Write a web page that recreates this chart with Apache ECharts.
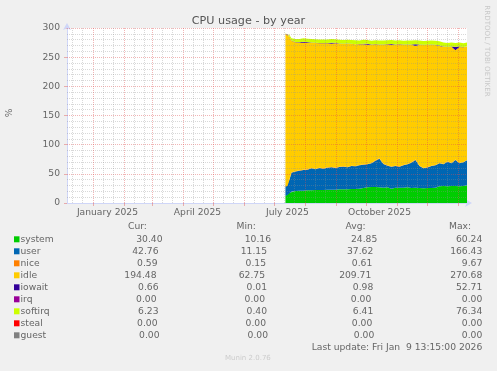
<!DOCTYPE html>
<html><head><meta charset="utf-8">
<script src="https://cdn.jsdelivr.net/npm/echarts@6/dist/echarts.min.js"></script>
<style>html,body{margin:0;padding:0;background:#f0f0f0;}#c{width:497px;height:371px;}</style>
</head><body><div id="c"></div>
<script>
// ---- data ----
const dates = ['2025-07-12','2025-07-14','2025-07-16','2025-07-18','2025-07-22','2025-07-26','2025-07-30',
 '2025-08-03','2025-08-07','2025-08-11','2025-08-15','2025-08-19','2025-08-23','2025-08-27','2025-08-31',
 '2025-09-04','2025-09-08','2025-09-12','2025-09-16','2025-09-20','2025-09-24','2025-09-28',
 '2025-10-02','2025-10-06','2025-10-10','2025-10-14','2025-10-18','2025-10-22','2025-10-26','2025-10-30',
 '2025-11-03','2025-11-07','2025-11-11','2025-11-15','2025-11-19','2025-11-23','2025-11-27',
 '2025-12-01','2025-12-05','2025-12-09','2025-12-13','2025-12-17','2025-12-21','2025-12-25','2025-12-29',
 '2026-01-02','2026-01-06','2026-01-09 13:15'];
const system = [12.0,13.7,17.7,19.4,20.6,21.1,21.1,21.7,21.7,22.3,22.3,22.3,22.9,22.9,22.9,23.4,23.4,23.4,24.0,24.0,24.6,25.7,
 26.9,27.4,27.4,26.9,26.3,26.9,24.5,26.3,26.3,26.3,26.9,25.7,26.3,25.7,25.1,25.7,25.7,26.3,28.6,29.1,28.6,29.1,29.1,28.6,29.1,30.40];
const user = [16.0,15.3,22.3,32.6,33.4,34.4,35.4,35.4,37.7,35.4,37.7,36.6,37.7,38.2,37.1,38.3,38.9,37.7,39.4,38.9,40.0,40.0,
 39.4,40.6,45.2,49.1,40.6,37.1,37.5,37.1,36.0,38.3,39.4,43.4,47.4,37.7,34.3,35.3,37.7,38.3,39.4,37.2,42.3,38.9,44.6,39.4,40.6,42.76];
const nice = [0.4,0.5,0.5,0.6,0.6,0.6,0.5,0.6,0.7,0.6,0.6,0.5,0.6,0.6,0.7,0.6,0.6,0.5,0.6,0.6,0.7,0.6,
 0.6,0.6,0.7,0.8,0.6,0.6,0.5,0.6,0.6,0.6,0.7,0.6,0.7,0.6,0.5,0.6,0.6,0.6,0.7,0.6,0.6,0.6,0.7,0.6,0.6,0.59];
const idle = [261.6,259.1,244.5,225.4,220.8,218.8,217.9,216.6,214.8,216.0,213.1,214.3,212.5,211.4,213.0,210.8,209.7,211.5,208.6,208.5,206.7,205.7,
 204.5,202.8,198.7,194.6,203.9,207.4,208.9,207.4,209.1,206.2,204.4,201.7,194.6,207.4,211.0,209.3,207.4,205.7,200.4,201.1,195.9,199.4,187.6,198.8,196.6,194.48];
const iowait = [0.2,0.3,0.3,0.4,0.4,0.5,1.6,1.2,0.4,0.3,0.4,0.5,0.4,1.5,0.9,0.4,0.3,0.5,0.4,0.3,0.4,1.2,
 1.4,0.5,0.4,0.3,0.5,0.4,1.0,0.5,0.4,0.3,0.5,0.4,3.0,0.5,0.4,0.3,0.5,0.4,1.0,0.5,0.4,0.5,6.0,1.0,0.5,0.66];
const irq = [0,0,0,0,0,0,0,0,0,0,0,0,0,0,0,0,0,0,0,0,0,0,0,0,0,0,0,0,0,0,0,0,0,0,0,0,0,0,0,0,0,0,0,0,0,0,0,0];
const softirq = [0.5,1.0,2.5,4.0,5.5,5.8,6.0,6.2,5.9,6.1,6.3,6.0,6.2,6.4,6.1,6.3,6.5,6.2,6.4,6.6,6.3,6.5,
 6.8,6.4,6.6,6.7,6.5,6.6,6.9,6.5,6.7,6.4,6.8,6.6,6.9,6.7,6.5,6.8,6.6,6.9,7.0,6.7,6.5,6.8,6.4,6.6,6.3,6.23];
const steal = [0,0,0,0,0,0,0,0,0,0,0,0,0,0,0,0,0,0,0,0,0,0,0,0,0,0,0,0,0,0,0,0,0,0,0,0,0,0,0,0,0,0,0,0,0,0,0,0];
const guest = [0,0,0,0,0,0,0,0,0,0,0,0,0,0,0,0,0,0,0,0,0,0,0,0,0,0,0,0,0,0,0,0,0,0,0,0,0,0,0,0,0,0,0,0,0,0,0,0];

const seriesNames = ['system','user','nice','idle','iowait','irq','softirq','steal','guest'];
const seriesColors = ['#00cc00','#0066b3','#ff8000','#ffcc00','#330099','#990099','#ccff00','#ff0000','#808080'];
const curVals = ['30.40','42.76','0.59','194.48','0.66','0.00','6.23','0.00','0.00'];
const minVals = ['10.16','11.15','0.15','62.75','0.01','0.00','0.40','0.00','0.00'];
const avgVals = ['24.85','37.62','0.61','209.71','0.98','0.00','6.41','0.00','0.00'];
const maxVals = ['60.24','166.43','9.67','270.68','52.71','0.00','76.34','0.00','0.00'];
const xLabels = ['January 2025','April 2025','July 2025','October 2025'];
const xLabelDates = ['2025-01-15','2025-04-15','2025-07-14','2025-10-14'];
const xStart = '2024-12-05 13:15';
const xEnd = '2026-01-09 13:15';
const yMax = 300;

// ---- helpers ----
function ts(s){
  const [d,t] = s.split(' ');
  const [Y,M,D] = d.split('-').map(Number);
  let h=0,mi=0;
  if(t){ [h,mi] = t.split(':').map(Number); }
  return new Date(Y, M-1, D, h, mi).getTime();
}
const FONT = 'DejaVu Sans';
const TXT = '#666666';
const MAJ = 'rgba(222,79,79,0.42)';
const MIN = 'rgba(143,143,143,0.35)';

const labelTimes = xLabelDates.map(ts);
const monthStarts = [];
const minorDays = [];
for (let y = 2024; y <= 2026; y++) {
  for (let m = 0; m < 12; m++) {
    const a = new Date(y, m, 1).getTime();
    if (a > ts(xStart) && a < ts(xEnd)) monthStarts.push(a);
    [11, 21].forEach(d => { const b = new Date(y, m, d).getTime(); if (b > ts(xStart) && b < ts(xEnd)) minorDays.push(b); });
  }
}
const gridData = [];
for (let v = 10; v <= yMax; v += 10) gridData.push({yAxis: v, lineStyle: {color: v % 50 === 0 ? MAJ : MIN, type: [1,1], width: 1}});
minorDays.forEach(t => gridData.push({xAxis: t, lineStyle: {color: MIN, type: [1,1], width: 1}}));
monthStarts.forEach(t => gridData.push({xAxis: t, lineStyle: {color: MAJ, type: [1,1], width: 1}}));

const stackData = [system, user, nice, idle, iowait, irq, softirq, steal, guest];
const series = seriesNames.map((n, i) => ({
  name: n, type: 'line', stack: 'cpu', silent: true, xAxisIndex: 0,
  data: dates.map((d, j) => [ts(d), stackData[i][j]]),
  symbol: 'none', showSymbol: false,
  lineStyle: {width: 0}, itemStyle: {color: seriesColors[i]},
  areaStyle: {color: seriesColors[i], opacity: 1}
}));
series.push({
  type: 'line', data: [], silent: true, z: 5, xAxisIndex: 0,
  markLine: {silent: true, symbol: ['none','none'], label: {show: false}, animation: false, data: gridData}
});

// ---- legend / texts ----
const graphic = [];
graphic.push({type:'text', x: 248.5, y: 21, style:{text:'CPU usage - by year', font:'11.2px "DejaVu Sans"', fill:'#555', align:'center', verticalAlign:'middle'}});
graphic.push({type:'text', x: 10, y: 113, rotation: Math.PI/2, style:{text:'%', font:'9.2px "DejaVu Sans"', fill:TXT, align:'center', verticalAlign:'middle'}});
graphic.push({type:'text', x: 487, y: 51, rotation: -Math.PI/2, style:{text:'RRDTOOL / TOBI OETIKER', font:'7.1px "DejaVu Sans"', fill:'#c8c8c8', align:'center', verticalAlign:'middle'}});
const hdrY = 226.7;
[['Cur:',128],['Min:',236.5],['Avg:',345.5],['Max:',449]].forEach(h => graphic.push({type:'text', x:h[1], y:hdrY, style:{text:h[0], font:'9.2px "DejaVu Sans"', fill:TXT, align:'left', verticalAlign:'middle'}}));
const shift = [5,1,0,-1,1,-1,1,0,2];
seriesNames.forEach((n, i) => {
  const y = 239.3 + 12*i;
  graphic.push({type:'rect', shape:{x:14, y:y-3, width:5.5, height:6}, style:{fill:seriesColors[i]}});
  graphic.push({type:'text', x:20.5, y:y, style:{text:n, font:'9.2px "DejaVu Sans"', fill:TXT, align:'left', verticalAlign:'middle'}});
  [[curVals,157.5],[minVals,266],[avgVals,372.3]].forEach(c => graphic.push({type:'text', x:c[1]+shift[i], y:y, style:{text:c[0][i], font:'9.2px "DejaVu Sans"', fill:TXT, align:'right', verticalAlign:'middle'}}));
  graphic.push({type:'text', x:482.3, y:y, style:{text:maxVals[i], font:'9.2px "DejaVu Sans"', fill:TXT, align:'right', verticalAlign:'middle'}});
});
graphic.push({type:'text', x:482.3, y:347.7, style:{text:'Last update: Fri Jan  9 13:15:00 2026', font:'9.2px "DejaVu Sans"', fill:TXT, align:'right', verticalAlign:'middle'}});
graphic.push({type:'text', x:225, y:357.7, style:{text:'Munin 2.0.76', font:'7px "DejaVu Sans"', fill:'#cccccc', align:'left', verticalAlign:'middle'}});

const chart = echarts.init(document.getElementById('c'), null, {renderer:'canvas'});
chart.setOption({
  animation: false,
  backgroundColor: '#f0f0f0',
  grid: {left: 67, right: 30, top: 28, bottom: 168, show: true, backgroundColor: '#ffffff', borderWidth: 0},
  xAxis: [{
    type: 'time', min: ts(xStart), max: ts(xEnd), position: 'bottom',
    axisLine: {show: true, lineStyle: {color: '#cfd6f8', width: 1}, symbol: ['none','arrow'], symbolSize: [6, 7], symbolOffset: [0, 5]},
    axisTick: {show: false}, axisLabel: {show: false}, splitLine: {show: false}
  }, {
    type: 'value', min: ts(xStart), max: ts(xEnd), position: 'bottom', offset: 0,
    axisLine: {show: false},
    axisTick: {show: true, customValues: monthStarts, length: 3, lineStyle: {color: MAJ}},
    axisLabel: {show: true, customValues: labelTimes, formatter: v => { const k = labelTimes.indexOf(v); return k >= 0 ? xLabels[k] : ''; },
      fontFamily: FONT, fontSize: 9.2, color: TXT, margin: 5},
    splitLine: {show: false}
  }],
  yAxis: {
    type: 'value', min: 0, max: yMax, interval: 50,
    axisLine: {show: true, lineStyle: {color: '#cfd6f8', width: 1}, symbol: ['none','arrow'], symbolSize: [6, 7], symbolOffset: [0, 5]},
    axisTick: {show: true, length: 3, lineStyle: {color: MAJ}},
    axisLabel: {fontFamily: FONT, fontSize: 9.2, color: TXT, margin: 7},
    splitLine: {show: false}
  },
  series: series,
  graphic: graphic
});
</script></body></html>
